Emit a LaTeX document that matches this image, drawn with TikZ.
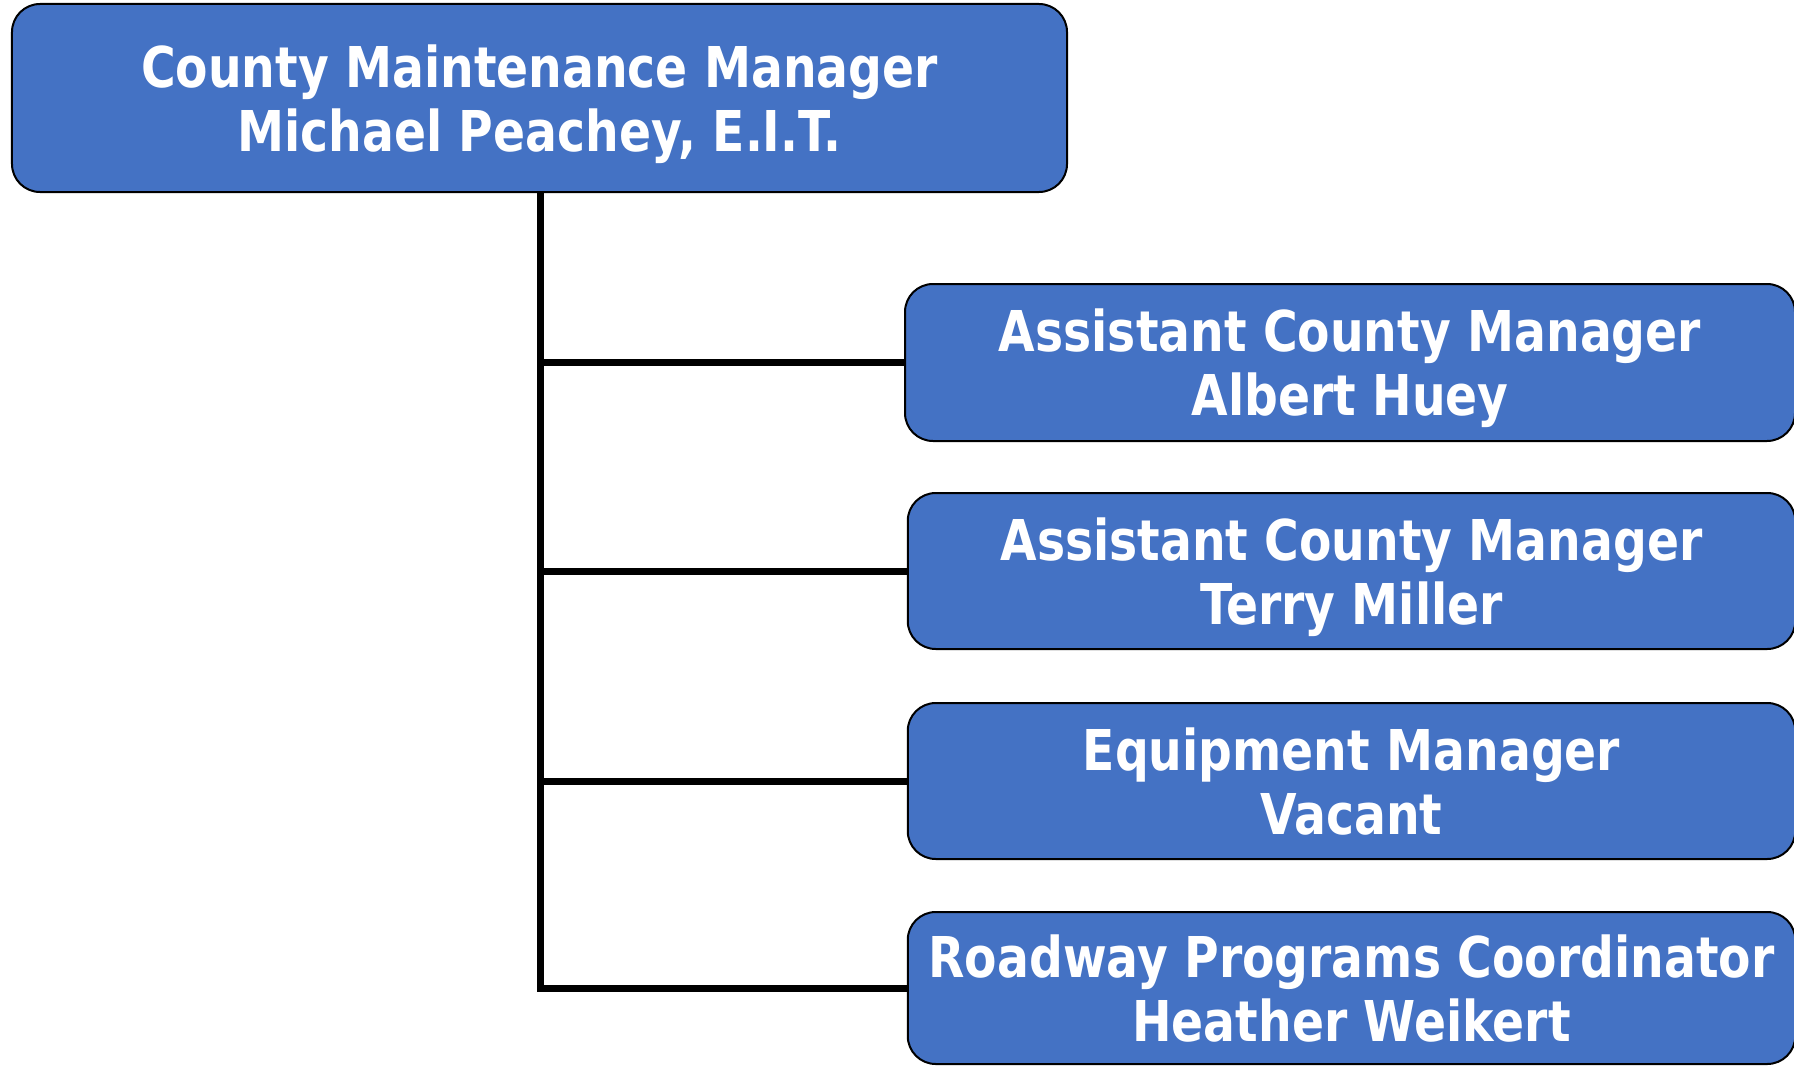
\documentclass[tikz,border=0pt]{standalone}
\usepackage{fontspec}
\newfontfamily\boxfont[FakeStretch=0.84]{DejaVu Sans Bold}
\definecolor{boxblue}{HTML}{4472C4}
\begin{document}
\begin{tikzpicture}[x=0.4pt,y=-0.4pt,
  orgbox/.style={draw=black,line width=0.8pt,fill=boxblue,rounded corners=11.2pt,
    rectangle,inner sep=0pt,text=white,align=center,text depth=0pt,
    execute at begin node={\rule{0pt}{20.5pt}},
    font=\boxfont\fontsize{22.5pt}{25.6pt}\selectfont},
  conn/.style={draw=black,line width=2.8pt}]
\useasboundingbox (0,0) rectangle (1794,1066);
\node[orgbox,minimum width=422pt,minimum height=75.2pt] (top) at (539.5,98)
  {County Maintenance Manager\\Michael Peachey, E.I.T.};
\node[orgbox,minimum width=356pt,minimum height=62.8pt] (b1) at (1350,362.5)
  {Assistant County Manager\\Albert Huey};
\node[orgbox,minimum width=355pt,minimum height=62.4pt] (b2) at (1351.5,571)
  {Assistant County Manager\\Terry Miller};
\node[orgbox,minimum width=355pt,minimum height=62.4pt] (b3) at (1351.5,781)
  {Equipment Manager\\Vacant};
\node[orgbox,minimum width=355pt,minimum height=60.8pt] (b4) at (1351.5,988)
  {Roadway Programs Coordinator\\Heather Weikert};
\coordinate (stem) at ([xshift=0.2pt]top.south);
\draw[conn] (stem) -- (stem |- b4.west) -- (b4.west);
\draw[conn] (stem |- b1.west) -- (b1.west);
\draw[conn] (stem |- b2.west) -- (b2.west);
\draw[conn] (stem |- b3.west) -- (b3.west);
\end{tikzpicture}
\end{document}
